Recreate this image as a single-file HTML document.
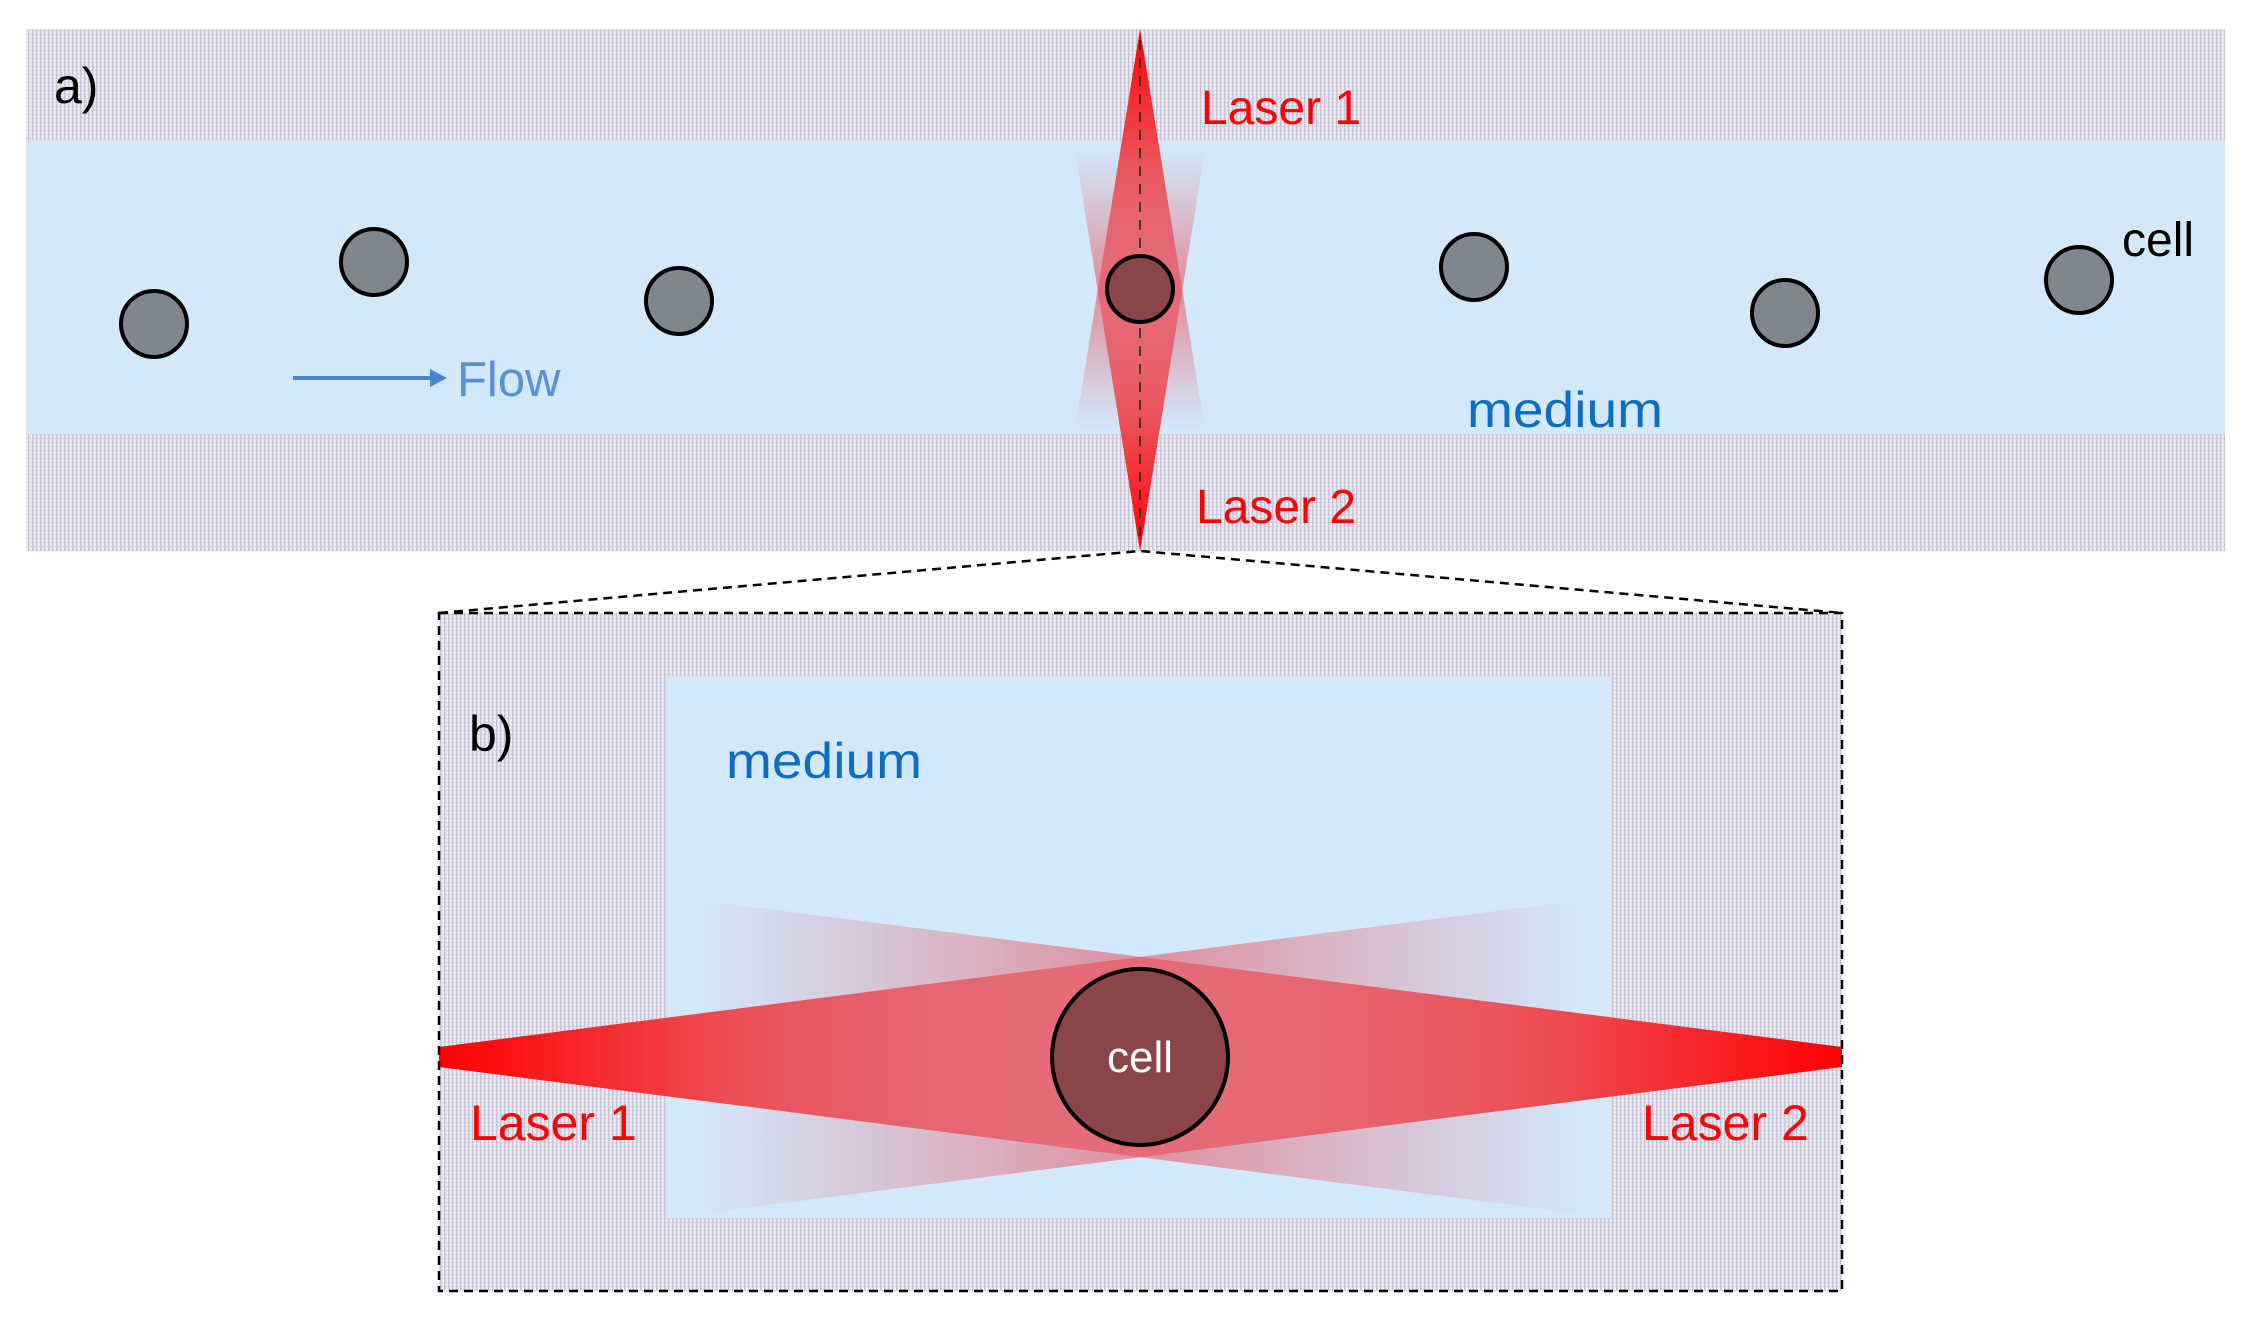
<!DOCTYPE html>
<html><head><meta charset="utf-8"><style>
html,body{margin:0;padding:0;background:#fff}
svg{display:block}
text{font-family:"Liberation Sans",sans-serif}
</style></head><body>
<svg width="2255" height="1333" viewBox="0 0 2255 1333" xmlns="http://www.w3.org/2000/svg">
<defs>
<pattern id="hatch" width="4" height="4" patternUnits="userSpaceOnUse">
<rect width="4" height="4" fill="#eeecf3"/>
<rect x="0" y="0" width="1.5" height="4" fill="#c8c2d9"/>
<rect x="2" y="2" width="2" height="1" fill="#d6d1e3"/>
</pattern>
<linearGradient id="gL" x1="439" y1="0" x2="1582" y2="0" gradientUnits="userSpaceOnUse">
<stop offset="0" stop-color="#ff0000" stop-opacity="1"/>
<stop offset="0.25" stop-color="#f03a40" stop-opacity="0.9"/>
<stop offset="0.6" stop-color="#e8505a" stop-opacity="0.6"/>
<stop offset="1" stop-color="#e05060" stop-opacity="0"/>
</linearGradient>
<linearGradient id="gR" x1="1842" y1="0" x2="698" y2="0" gradientUnits="userSpaceOnUse">
<stop offset="0" stop-color="#ff0000" stop-opacity="1"/>
<stop offset="0.25" stop-color="#f03a40" stop-opacity="0.9"/>
<stop offset="0.6" stop-color="#e8505a" stop-opacity="0.6"/>
<stop offset="1" stop-color="#e05060" stop-opacity="0"/>
</linearGradient>
<linearGradient id="gT" x1="0" y1="29" x2="0" y2="430" gradientUnits="userSpaceOnUse">
<stop offset="0" stop-color="#ff0000"/>
<stop offset="0.3" stop-color="#f03a40" stop-opacity="0.9"/>
<stop offset="0.65" stop-color="#e8505a" stop-opacity="0.6"/>
<stop offset="1" stop-color="#e05060" stop-opacity="0"/>
</linearGradient>
<linearGradient id="gB" x1="0" y1="551" x2="0" y2="150" gradientUnits="userSpaceOnUse">
<stop offset="0" stop-color="#ff0000"/>
<stop offset="0.3" stop-color="#f03a40" stop-opacity="0.9"/>
<stop offset="0.65" stop-color="#e8505a" stop-opacity="0.6"/>
<stop offset="1" stop-color="#e05060" stop-opacity="0"/>
</linearGradient>
</defs>

<!-- Panel a -->
<rect x="26" y="29" width="2199" height="522" fill="url(#hatch)"/>
<rect x="26" y="141" width="2199" height="293" fill="#d3e8fb"/>
<polygon points="1140,29 1205,430 1075,430" fill="url(#gT)"/>
<polygon points="1140,551 1205,150 1075,150" fill="url(#gB)"/>
<line x1="1140" y1="40" x2="1140" y2="540" stroke="#222" stroke-width="1.5" stroke-dasharray="10,8"/>

<g stroke="#000" stroke-width="4" fill="#7f868e">
<circle cx="154" cy="324" r="33"/>
<circle cx="374" cy="262" r="33"/>
<circle cx="679" cy="301" r="33"/>
<circle cx="1474" cy="267" r="33"/>
<circle cx="1785" cy="313" r="33"/>
<circle cx="2079" cy="280" r="33"/>
<circle cx="1140" cy="289" r="33" fill="#8b4448"/>
</g>
<line x1="293" y1="378" x2="432" y2="378" stroke="#4a86d0" stroke-width="4"/>
<polygon points="430,369 447,378 430,387" fill="#4a86d0"/>

<text x="54" y="103" font-size="50" fill="#000">a)</text>
<text x="1201" y="124" font-size="48" fill="#ff0000">Laser 1</text>
<text x="1196" y="523" font-size="48" fill="#ff0000">Laser 2</text>
<text x="2122" y="256" font-size="48" fill="#000">cell</text>
<text x="457" y="396" font-size="49" fill="#5b8fd6">Flow</text>
<text x="1467" y="427" font-size="50" fill="#0e6cc4" textLength="196" lengthAdjust="spacingAndGlyphs">medium</text>

<!-- connectors -->
<polyline points="439,613 1140,551 1842,613" fill="none" stroke="#000" stroke-width="2.5" stroke-dasharray="9,6"/>

<!-- Panel b -->
<rect x="439" y="613" width="1403" height="678" fill="url(#hatch)"/>
<rect x="666" y="677" width="946" height="541" fill="#d3e8fb"/>
<polygon points="439,1047 439,1067 1582,1214 1582,900" fill="url(#gL)"/>
<polygon points="1842,1047 1842,1067 698,1214 698,900" fill="url(#gR)"/>
<rect x="439" y="613" width="1403" height="678" fill="none" stroke="#000" stroke-width="2.5" stroke-dasharray="9,6"/>
<circle cx="1140" cy="1057" r="88" fill="#8b4448" stroke="#000" stroke-width="4"/>
<text x="1140" y="1072" font-size="44" fill="#fff" text-anchor="middle">cell</text>
<text x="469" y="751" font-size="50" fill="#000">b)</text>
<text x="726" y="778" font-size="50" fill="#0e6cc4" textLength="196" lengthAdjust="spacingAndGlyphs">medium</text>
<text x="470" y="1140" font-size="50" fill="#ff0000">Laser 1</text>
<text x="1642" y="1140" font-size="50" fill="#ff0000">Laser 2</text>
</svg>
</body></html>
